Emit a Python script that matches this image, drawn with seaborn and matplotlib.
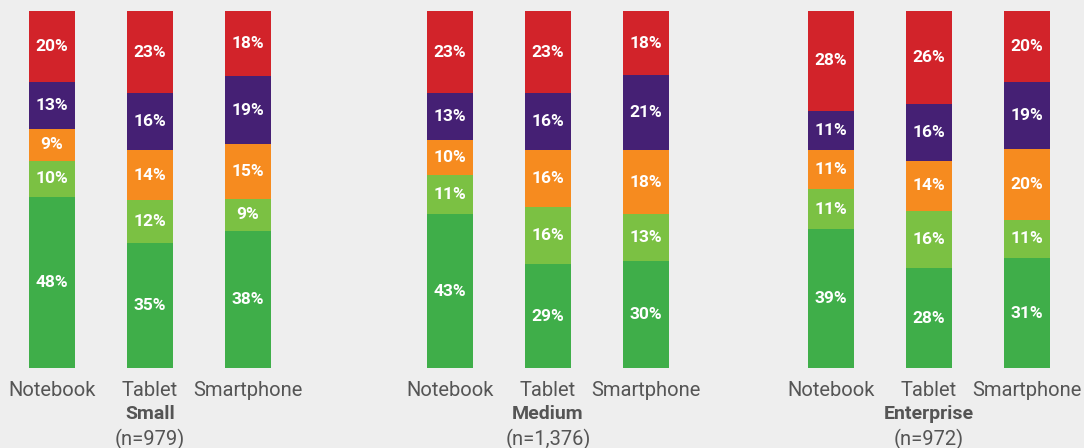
import numpy as np
import pandas as pd
import matplotlib
matplotlib.use("Agg")
import matplotlib.pyplot as plt
import seaborn as sns

devices = ["Notebook", "Tablet", "Smartphone"]
groups = ["Small", "Medium", "Enterprise"]
group_n = ["(n=979)", "(n=1,376)", "(n=972)"]
segments = ["seg1", "seg2", "seg3", "seg4", "seg5"]  # bottom -> top
seg_colors = ["#3FAE49", "#7BC143", "#F68B1F", "#452074", "#D2232A"]

small = {"Notebook": [48, 10, 9, 13, 20], "Tablet": [35, 12, 14, 16, 23], "Smartphone": [38, 9, 15, 19, 18]}
medium = {"Notebook": [43, 11, 10, 13, 23], "Tablet": [29, 16, 16, 16, 23], "Smartphone": [30, 13, 18, 21, 18]}
enterprise = {"Notebook": [39, 11, 11, 11, 28], "Tablet": [28, 16, 14, 16, 26], "Smartphone": [31, 11, 20, 19, 20]}
group_data = [small, medium, enterprise]

BG = "#EEEEEE"
sns.set_theme(style="white", rc={"figure.facecolor": BG, "axes.facecolor": BG})
plt.rcParams["font.family"] = ["Roboto", "DejaVu Sans"]

W, H = 1084, 448
fig = plt.figure(figsize=(W / 100, H / 100), dpi=100)
fig.patch.set_facecolor(BG)

ax_left_px = [3, 401, 782]
ax_w_px = 294
bottom = (H - 368) / H
height = (368 - 11) / H

for gi, (gname, gn, data) in enumerate(zip(groups, group_n, group_data)):
    ax = fig.add_axes([ax_left_px[gi] / W, bottom, ax_w_px / W, height])
    ax.set_facecolor(BG)
    rows = []
    for d in devices:
        vals = np.array(data[d], dtype=float)
        norm = vals / vals.sum() * 100
        cum = np.cumsum(norm)
        for si, s in enumerate(segments):
            rows.append(dict(device=d, seg=s, val=data[d][si], share=norm[si], top=cum[si]))
    df = pd.DataFrame(rows)
    # draw from top layer down so lower layers overlay
    for si in range(len(segments) - 1, -1, -1):
        sub = df[df.seg == segments[si]]
        sns.barplot(data=sub, x="device", y="top", order=devices, color=seg_colors[si],
                    saturation=1, width=0.47, errorbar=None, ax=ax, linewidth=0)
    for _, r in df.iterrows():
        xi = devices.index(r.device)
        ax.text(xi, r.top - r.share / 2, f"{r.val}%", ha="center", va="center",
                color="white", fontsize=12.5, fontweight="bold")
    ax.set_ylim(0, 100)
    ax.set_xlim(-0.5, 2.5)
    ax.set_xlabel("")
    ax.set_ylabel("")
    ax.set_yticks([])
    sns.despine(ax=ax, left=True, bottom=True)
    ax.tick_params(axis="x", length=0, pad=9, labelsize=14.5, labelcolor="#555555")
    ax.text(1, -0.13, gname, transform=ax.get_xaxis_transform(), ha="center", va="center",
            fontsize=14, fontweight="bold", color="#555555")
    ax.text(1, -0.2, gn, transform=ax.get_xaxis_transform(), ha="center", va="center",
            fontsize=14.5, color="#555555")

fig.savefig("out.png", dpi=100, facecolor=BG)
